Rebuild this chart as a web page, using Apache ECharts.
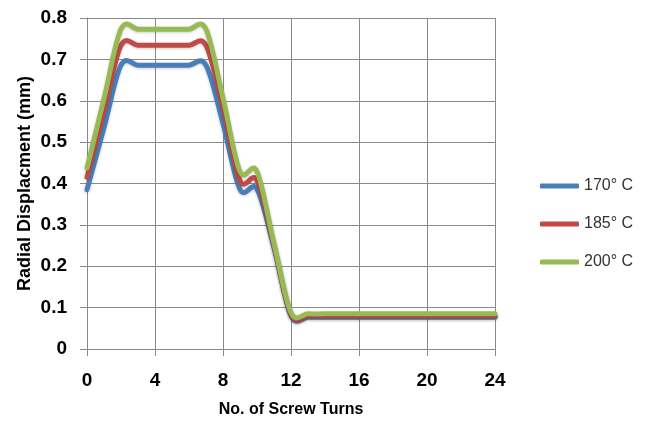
<!DOCTYPE html>
<html>
<head>
<meta charset="utf-8">
<script src="https://cdn.jsdelivr.net/npm/echarts@6/dist/echarts.min.js"></script>
<style>
html,body{margin:0;padding:0;background:#fff;}
#chart{width:645px;height:423px;}
</style>
</head>
<body>
<div id="chart"></div>
<script>
var turns = [0,1,2,3,4,5,6,7,8,9,10,11,12,13,14,15,16,17,18,19,20,21,22,23,24];
var t170 = [0.385,0.535,0.686,0.686,0.686,0.686,0.686,0.686,0.545,0.386,0.386,0.245,0.080,0.077,0.077,0.077,0.077,0.077,0.077,0.077,0.077,0.077,0.077,0.077,0.077];
var t185 = [0.415,0.575,0.734,0.734,0.734,0.734,0.734,0.734,0.583,0.407,0.407,0.250,0.083,0.080,0.080,0.080,0.080,0.080,0.080,0.080,0.080,0.080,0.080,0.080,0.080];
var t200 = [0.437,0.605,0.773,0.773,0.773,0.773,0.773,0.773,0.607,0.429,0.429,0.255,0.088,0.085,0.085,0.085,0.085,0.085,0.085,0.085,0.085,0.085,0.085,0.085,0.085];
var seriesNames = ['170° C','185° C','200° C'];
var seriesColors = ['#4a7ebb','#be4b48','#98b954'];
var xTicks = [0,4,8,12,16,20,24];
var yTicks = [0,0.1,0.2,0.3,0.4,0.5,0.6,0.7,0.8];
var xTitle = 'No. of Screw Turns';
var yTitle = 'Radial Displacment (mm)';

function pairs(vals){ return turns.map(function(t,i){ return [t, vals[i]]; }); }
var allVals = [t170, t185, t200];

// Excel-style smoothed line: cubic Bezier through the data points, control points
// from neighbouring points (Catmull-Rom), positions obtained from the chart's axes.
function smoothRenderer(vals, color){
  return function(params, api){
    if (params.dataIndex !== 0) return null;
    var p = turns.map(function(t,i){ return api.coord([t, vals[i]]); });
    var n = p.length;
    function P(i){
      if (i < 0) return [2*p[0][0]-p[1][0], 2*p[0][1]-p[1][1]];
      if (i >= n) return [2*p[n-1][0]-p[n-2][0], 2*p[n-1][1]-p[n-2][1]];
      return p[i];
    }
    var d = 'M' + p[0][0] + ' ' + p[0][1];
    for (var i = 0; i < n-1; i++){
      var a = P(i-1), b = P(i), c = P(i+1), e = P(i+2);
      var c1x = b[0] + (c[0]-a[0])/6, c1y = b[1] + (c[1]-a[1])/6;
      var c2x = c[0] - (e[0]-b[0])/6, c2y = c[1] - (e[1]-b[1])/6;
      d += ' C' + c1x + ' ' + c1y + ' ' + c2x + ' ' + c2y + ' ' + c[0] + ' ' + c[1];
    }
    return {
      type: 'path',
      shape: {pathData: d},
      style: {fill: 'none', stroke: color, lineWidth: 5, lineCap: 'round', lineJoin: 'round',
        shadowColor: 'rgba(0,0,0,0.2)', shadowBlur: 3, shadowOffsetY: 1}
    };
  };
}

var chart = echarts.init(document.getElementById('chart'), null, {renderer:'canvas'});
var gridColor = '#8a8a8a';
var font = 'Liberation Sans, Arial, sans-serif';
chart.setOption({
  backgroundColor: '#ffffff',
  animation: false,
  grid: {left: 87, right: 150, top: 18, bottom: 71, containLabel: false},
  legend: {
    orient: 'vertical', left: 535, top: 173, itemWidth: 39, itemHeight: 5, itemGap: 22,
    icon: 'roundRect',
    textStyle: {fontFamily: font, fontSize: 16, color: '#333'},
    data: seriesNames
  },
  xAxis: {
    type: 'value', min: xTicks[0], max: xTicks[xTicks.length-1], interval: 4,
    name: xTitle, nameLocation: 'middle', nameGap: 53, nameMoveOverlap: false,
    nameTextStyle: {fontFamily: font, fontSize: 16, fontWeight: 'bold', color: '#000'},
    axisLine: {show: true, lineStyle: {color: gridColor, width: 1}},
    axisTick: {show: true, length: 7, lineStyle: {color: gridColor}},
    axisLabel: {fontFamily: font, fontSize: 19, fontWeight: 'bold', color: '#000', margin: 22},
    splitLine: {show: true, lineStyle: {color: gridColor, width: 1}}
  },
  yAxis: {
    type: 'value', min: yTicks[0], max: yTicks[yTicks.length-1], interval: 0.1,
    name: yTitle, nameLocation: 'middle', nameGap: 53, nameRotate: 90, nameMoveOverlap: false,
    nameTextStyle: {fontFamily: font, fontSize: 18, fontWeight: 'bold', color: '#000'},
    axisLine: {show: true, lineStyle: {color: gridColor, width: 1}},
    axisTick: {show: true, length: 7, lineStyle: {color: gridColor}},
    axisLabel: {fontFamily: font, fontSize: 19, fontWeight: 'bold', color: '#000', margin: 20,
      formatter: function(v){ return String(Math.round(v*10)/10); }},
    splitLine: {show: true, lineStyle: {color: gridColor, width: 1}}
  },
  series: allVals.map(function(vals, i){
    return {
      name: seriesNames[i], type: 'custom', data: pairs(vals),
      encode: {x: 0, y: 1},
      renderItem: smoothRenderer(vals, seriesColors[i]),
      itemStyle: {color: seriesColors[i]},
      z: 2 + i
    };
  })
});
</script>
</body>
</html>
